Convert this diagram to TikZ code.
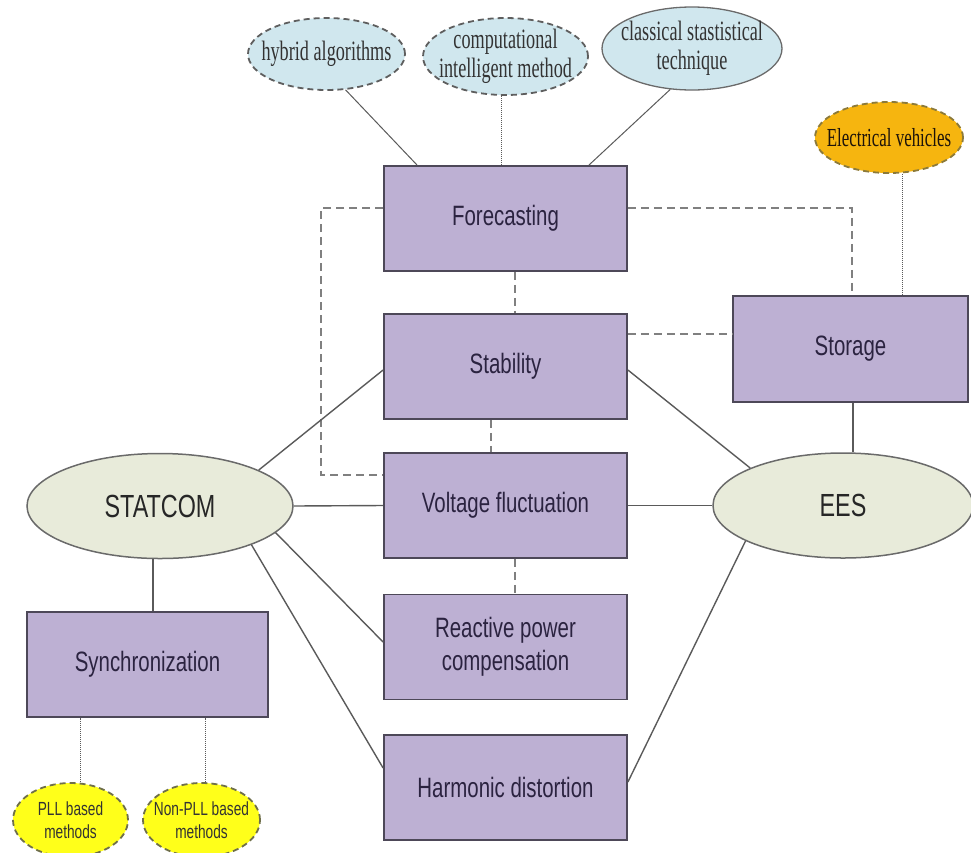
\documentclass[tikz,border=0pt]{standalone}
\usepackage{fontspec}
\usetikzlibrary{shapes.geometric}
\newfontfamily\boxfont[FakeStretch=0.73]{Liberation Sans}
\newfontfamily\pllfont[FakeStretch=0.72]{Liberation Sans}
\newfontfamily\serfont[FakeStretch=0.65]{Liberation Serif}
\definecolor{boxfill}{HTML}{BDB0D3}
\definecolor{boxline}{HTML}{4D4858}
\definecolor{boxtext}{HTML}{2B2340}
\definecolor{greenfill}{HTML}{E8EBDA}
\definecolor{greenline}{HTML}{6A6A6A}
\definecolor{bluefill}{HTML}{D0E7EE}
\definecolor{dashline}{HTML}{5E5E5E}
\definecolor{evfill}{HTML}{F6B50F}
\definecolor{evline}{HTML}{8C7A3A}
\definecolor{yelfill}{HTML}{FFFF1A}
\definecolor{yelline}{HTML}{6F6F4A}
\definecolor{conn}{HTML}{5A5A5A}
\definecolor{dconn}{HTML}{808080}
\begin{document}
\begin{tikzpicture}[x=1pt,y=-1pt,
  topic/.style={rectangle, draw=boxline, line width=1.8pt, fill=boxfill,
    minimum width=243pt, minimum height=105pt, inner sep=0pt, align=center,
    text=boxtext, font=\boxfont\fontsize{28}{33}\selectfont},
  hub/.style={ellipse, draw=greenline, line width=1.5pt, fill=greenfill,
    minimum width=266pt, minimum height=105pt, inner sep=0pt,
    text=black!85, font=\boxfont\fontsize{32}{36}\selectfont},
  blueell/.style={ellipse, fill=bluefill, inner sep=0pt},
  bluedash/.style={draw=dashline, line width=1.8pt, dash pattern=on 6pt off 4pt},
  serlabel/.style={align=center, text=black!80, font=\serfont\fontsize{28}{29}\selectfont},
  evell/.style={ellipse, fill=evfill, draw=evline, line width=1.8pt,
    dash pattern=on 6pt off 4pt, inner sep=0pt},
  yelell/.style={ellipse, fill=yelfill, draw=yelline, line width=1.8pt,
    dash pattern=on 6pt off 4pt, inner sep=0pt},
  link/.style={draw=conn, line width=1.4pt},
  thinlink/.style={draw=conn, line width=1pt},
  dotlink/.style={draw=conn, line width=1pt, densely dotted},
  dlink/.style={draw=dconn, line width=2.2pt, dash pattern=on 8pt off 5pt}
]
\useasboundingbox (0,0) rectangle (971,852);

% boxes
\node[topic] (fc) at (505.5,218.5) {Forecasting};
\node[topic] (sb) at (505.5,366.5) {Stability};
\node[topic] (vf) at (505.5,505.5) {Voltage fluctuation};
\node[topic] (rp) at (505.5,647) {Reactive power\\compensation};
\node[topic] (hd) at (505.5,787.5) {Harmonic distortion};
\node[topic, minimum width=235pt, minimum height=106pt] (st) at (850.5,349) {Storage};
\node[topic, minimum width=241pt] (sy) at (147.5,664.5) {Synchronization};

% hubs
\node[hub] (sc) at (160,506) {STATCOM};
\node[hub, minimum width=260pt] (es) at (843,505.5) {EES};

% top ellipses
\node[blueell, bluedash, minimum width=157pt, minimum height=72pt,
  label={[serlabel]center:hybrid algorithms}] (ha) at (326.5,54) {};
\node[blueell, bluedash, minimum width=165pt, minimum height=77pt,
  label={[serlabel]center:computational\\intelligent method}] (ci) at (505.5,56.5) {};
\node[blueell, draw=greenline, line width=1.3pt, minimum width=180pt, minimum height=83pt,
  label={[serlabel]center:classical stastistical\\technique}] (cs) at (692,48.5) {};
\node[evell, minimum width=148pt, minimum height=71pt,
  label={[serlabel, text=black!85!brown, font=\serfont\fontsize{26}{28}\selectfont]center:Electrical vehicles}] (ev) at (889,137.5) {};

% PLL ellipses
\node[yelell, minimum width=115pt, minimum height=74pt,
  label={[align=center, text=black!80, font=\pllfont\fontsize{19}{23}\selectfont]center:PLL based\\methods}] (pll) at (70.5,820) {};
\node[yelell, minimum width=117pt, minimum height=74pt,
  label={[align=center, text=black!80, font=\pllfont\fontsize{19}{23}\selectfont]center:Non-PLL based\\methods}] (npll) at (201.5,820) {};

% top connectors
\draw[thinlink] (ha.-62) -- ([xshift=34pt]fc.north west);
\draw[dotlink] ([xshift=-4.5pt]ci.south) -- ([xshift=-4.5pt]fc.north);
\draw[thinlink] (cs.-118) -- ([xshift=-39pt]fc.north east);
\draw[dotlink] ([xshift=13pt]ev.south) -- ([xshift=13pt]ev.south |- st.north);

% dashed connectors
\draw[dlink] ([yshift=10.5pt]fc.west) -- ++(-62,0) |- ([yshift=30.5pt]vf.west);
\draw[dlink] ([yshift=10.5pt]fc.east) -| ([xshift=1.5pt]st.north);
\draw[dlink] ([xshift=9.5pt]fc.south) -- ([xshift=9.5pt]sb.north);
\draw[dlink] ([xshift=-14.5pt]sb.south) -- ([xshift=-14.5pt]vf.north);
\draw[dlink] ([xshift=9.5pt]vf.south) -- ([xshift=9.5pt]rp.north);
\draw[dlink] ([yshift=32.5pt]sb.east) -- ([yshift=32.5pt]sb.east -| st.west);

% STATCOM connectors
\draw[link] (sc.20) -- ([yshift=-3.5pt]sb.west);
\draw[link] (sc.east) -- (vf.west);
\draw[link] (sc.-13) -- ([yshift=5pt]rp.west);
\draw[link] (sc.-23) -- ([yshift=19.5pt]hd.west);
\draw[link] ([xshift=5.5pt]sy.north) -- ([xshift=5.5pt]sy.north |- sc.south);

% EES connectors
\draw[link] (es.158) -- ([yshift=-3.5pt]sb.east);
\draw[link] (es.west) -- (vf.east);
\draw[link] (es.200) -- ([yshift=5.5pt]hd.east);
\draw[link] ([xshift=2.5pt]st.south) -- ([xshift=2.5pt]st.south |- es.north);

% Synchronization to PLL
\draw[dotlink] ([xshift=10pt]pll.north) -- ([xshift=10pt]pll.north |- sy.south);
\draw[dotlink] ([xshift=3.5pt]npll.north) -- ([xshift=3.5pt]npll.north |- sy.south);
\end{tikzpicture}
\end{document}
